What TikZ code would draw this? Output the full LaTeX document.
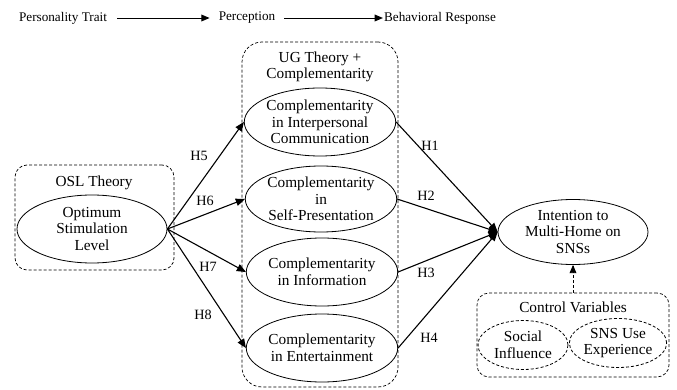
\documentclass[tikz,border=0pt]{standalone}
\usepackage{fontspec}
\setmainfont{Liberation Serif}
\usetikzlibrary{shapes,arrows,positioning,calc}

\tikzset{
  construct/.style={ellipse,draw,line width=0.8pt,inner sep=0pt,align=center,
    minimum width=150pt,minimum height=68pt,font=\fontsize{15.3}{16.5}\selectfont},
  control/.style={construct,dash pattern=on 3pt off 2pt},
  group/.style={draw,dash pattern=on 3pt off 2pt,line width=0.7pt,rounded corners=12pt},
  grouptitle/.style={align=center,inner sep=0pt,font=\fontsize{15.3}{16.5}\selectfont},
  stage/.style={inner sep=0pt,font=\fontsize{13.2}{15}\selectfont},
  hyp/.style={-triangle 45,line width=1.1pt},
  hlabel/.style={inner sep=0pt,font=\fontsize{14.2}{16}\selectfont}
}

\begin{document}
\begin{tikzpicture}[x=1pt,y=-1pt]
  \useasboundingbox (0,0) rectangle (677,390);

  % stages along the top
  \node[stage](trait) at (63,18){Personality Trait};
  \node[stage](perc) at (247,18){Perception};
  \node[stage](resp) at (440,18){Behavioral Response};
  \draw[-triangle 45,line width=0.9pt,shorten <=10pt,shorten >=9pt] (trait) -- (perc);
  \draw[-triangle 45,line width=0.9pt,shorten <=9pt,shorten >=1pt] (perc) -- (resp);

  % dashed groups
  \node[group,minimum width=159pt,minimum height=105pt](oslbox) at (94.5,217.5){};
  \node[group,rounded corners=20pt,minimum width=156pt,minimum height=345pt](ugbox) at (320,214.5){};
  \node[group,minimum width=192pt,minimum height=84pt](ctrlbox) at (573,335){};

  \node[grouptitle](osltitle) at (94,183){OSL Theory};
  \node[grouptitle](ugtitle) at (320,67){UG Theory +\\Complementarity};
  \node[grouptitle](ctrltitle) at (573,307){Control Variables};

  % constructs
  \node[construct](osl) at (92,229){Optimum\\Stimulation\\Level};
  \node[construct](e1) at (320,122){Complementarity\\in Interpersonal\\Communication};
  \node[construct,minimum height=66pt](e2) at (321,199){Complementarity\\in\\Self-Presentation};
  \node[construct](e3) at (322,272){Complementarity\\in Information};
  \node[construct](e4) at (322,348){Complementarity\\in Entertainment};
  \node[construct,minimum height=65pt](goal) at (573,232){Intention to\\Multi-Home on\\SNSs};
  \node[control,minimum width=90pt,minimum height=49pt](social) at (523,345){Social\\Influence};
  \node[control,minimum width=97pt,minimum height=49pt](exper) at (618,343){SNS Use\\Experience};

  % hypotheses
  \draw[hyp] (osl.east) -- (e1.west);
  \draw[hyp] (osl.east) -- (e2.west);
  \draw[hyp] (osl.east) -- (e3.west);
  \draw[hyp] (osl.east) -- (e4.west);
  \draw[hyp] (e1.east) -- (goal.west);
  \draw[hyp] (e2.east) -- (goal.west);
  \draw[hyp] (e3.east) -- (goal.west);
  \draw[hyp] (e4.east) -- (goal.west);
  \draw[-triangle 45,dash pattern=on 3pt off 2pt,line width=0.9pt] (ctrlbox) -- (goal);

  \node[hlabel](h5) at (199,156){H5};
  \node[hlabel](h6) at (205,201){H6};
  \node[hlabel](h7) at (208,267){H7};
  \node[hlabel](h8) at (203,315){H8};
  \node[hlabel](h1) at (430,146){H1};
  \node[hlabel](h2) at (426,196){H2};
  \node[hlabel](h3) at (426,273){H3};
  \node[hlabel](h4) at (429,338){H4};
\end{tikzpicture}
\end{document}
